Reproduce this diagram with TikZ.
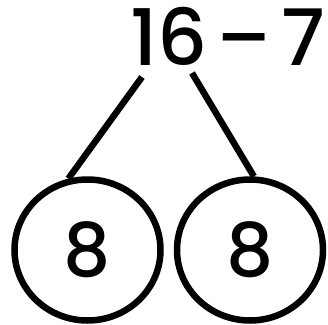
\documentclass[tikz,border=0pt]{standalone}
\usepackage{fontspec}
\setmainfont{Poppins}[UprightFont=* Medium]
\usetikzlibrary{shapes.geometric}
\tikzset{
  every picture/.style={line width=6.5pt},
  bubble/.style={draw, ellipse, line width=6.5pt, minimum width=146pt, minimum height=141pt, inner sep=0pt, font=\fontsize{74}{74}\selectfont},
  sum/.style={inner sep=0pt, font=\fontsize{78}{78}\selectfont},
  leg/.style={line width=6.5pt},
}
\begin{document}
\begin{tikzpicture}[x=1pt,y=1pt]
  \useasboundingbox (0,0) rectangle (328,324);
  \node[sum] (top) at (227.5,287.5) {16\hspace{0.12em}–\hspace{0.12em}7};
  \node[bubble] (left) at (87.5,74) {8};
  \node[bubble] (right) at (250,74) {8};
  % free ends of the two legs, just under the number
  \coordinate (lt) at (142,247);
  \coordinate (rt) at (192,251);
  \draw[leg] (lt) -- (left.105);
  \draw[leg] (rt) -- (right.87);
\end{tikzpicture}
\end{document}
